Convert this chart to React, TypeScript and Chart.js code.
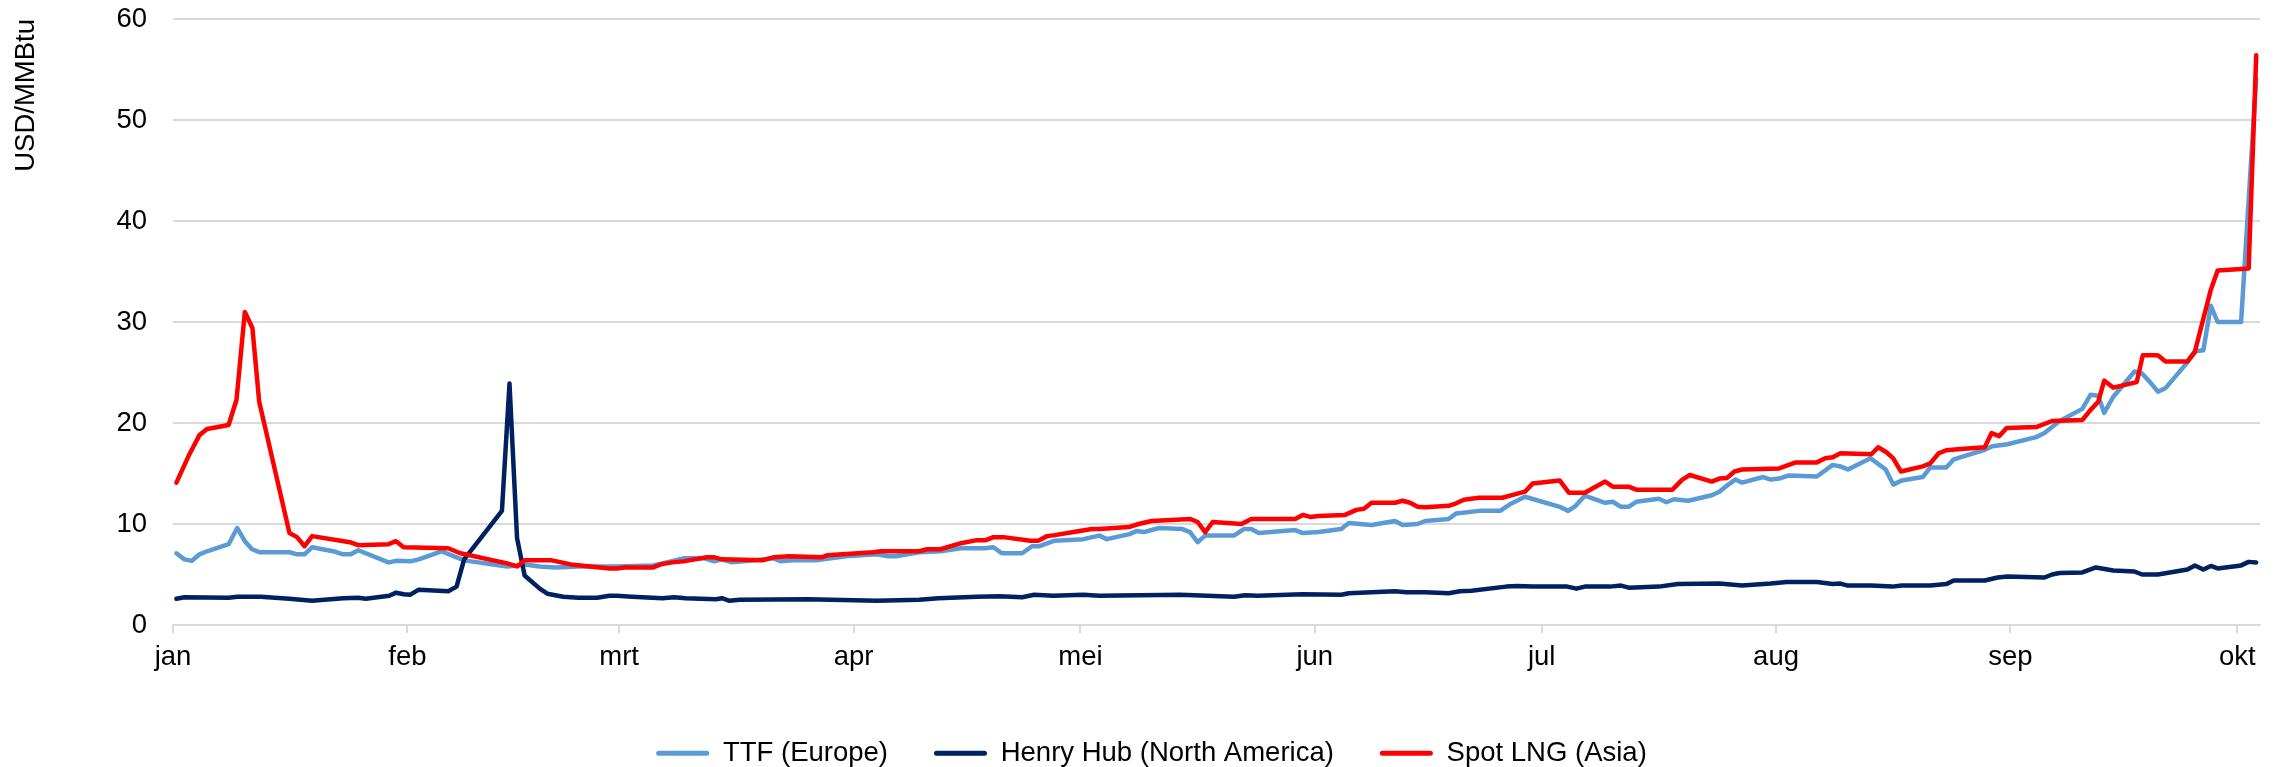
import React, { useEffect, useRef } from "react";
import { Chart, registerables } from "chart.js";

Chart.register(...registerables);

// Month tick positions (day of year, Jan 1 = 0) and labels
const monthStarts = [0, 31, 59, 90, 120, 151, 181, 212, 243, 273];
const monthLabels = ["jan", "feb", "mrt", "apr", "mei", "jun", "jul", "aug", "sep", "okt"];

const seriesLabels = ["TTF (Europe)", "Henry Hub (North America)", "Spot LNG (Asia)"];
const seriesColors = ["#5B9BD5", "#002060", "#FF0000"];

// [day position, USD/MMBtu]
const ttfSeries: [number, number][] = [
  [0.45, 7.1], [1.5, 6.5], [2.5, 6.35], [3.5, 7.0], [4.5, 7.3], [7.35, 8.0], [8.5, 9.6], [9.5, 8.3], [10.45, 7.5], [11.5, 7.2],
  [15.4, 7.2], [16.4, 7.0], [17.4, 7.0], [18.4, 7.7], [21.5, 7.25], [22.5, 7.0], [23.5, 7.0], [24.5, 7.4], [28.5, 6.2], [29.5, 6.35],
  [31.4, 6.3], [32.5, 6.5], [35.5, 7.3], [38.5, 6.4], [44.2, 5.8], [45.5, 5.9], [46.5, 6.0], [48.5, 5.8], [50.6, 5.7], [53.6, 5.8],
  [58.7, 5.8], [63.5, 5.9], [64.7, 6.1], [67.5, 6.6], [70.3, 6.6], [71.6, 6.3], [72.6, 6.5], [73.9, 6.2], [76.9, 6.4], [79.4, 6.6],
  [80.4, 6.3], [81.9, 6.4], [85, 6.4], [89, 6.8], [93.1, 7.0], [94.6, 6.8], [95.6, 6.8], [98.7, 7.2], [101.5, 7.3], [104.2, 7.6],
  [107.3, 7.6], [108.5, 7.7], [109.6, 7.1], [112.3, 7.1], [113.6, 7.8], [114.6, 7.8], [116.6, 8.35], [120.4, 8.5], [122.5, 8.85], [123.5, 8.5],
  [126.5, 9.0], [127.4, 9.3], [128.4, 9.2], [130.4, 9.6], [133.5, 9.5], [134.5, 9.2], [135.5, 8.2], [136.5, 8.85], [140.3, 8.85], [141.6, 9.5],
  [142.6, 9.5], [143.6, 9.1], [148.4, 9.4], [149.4, 9.1], [151.5, 9.2], [154.5, 9.5], [155.5, 10.1], [158.5, 9.9], [161.6, 10.3], [162.6, 9.9],
  [164.6, 10.0], [165.6, 10.3], [168.7, 10.5], [169.7, 11.05], [172.7, 11.3], [175.5, 11.3], [176.8, 11.95], [178.8, 12.7], [183.4, 11.7], [184.5, 11.3],
  [185.5, 11.8], [186.7, 12.8], [189.4, 12.1], [190.4, 12.2], [191.5, 11.7], [192.5, 11.7], [193.5, 12.2], [196.5, 12.5], [197.5, 12.15], [198.5, 12.45],
  [200.4, 12.3], [203.5, 12.85], [204.5, 13.2], [205.5, 13.8], [206.6, 14.4], [207.5, 14.1], [210.3, 14.65], [211.3, 14.4], [212.4, 14.5], [213.6, 14.8],
  [217.4, 14.7], [219.5, 15.85], [220.5, 15.7], [221.5, 15.4], [224.5, 16.5], [226.5, 15.4], [227.5, 13.9], [228.6, 14.3], [231.4, 14.65], [232.4, 15.6],
  [234.5, 15.6], [235.5, 16.4], [239.6, 17.35], [240.6, 17.7], [242.6, 17.9], [246.4, 18.6], [247.5, 19.0], [249.5, 20.2], [252.5, 21.4], [253.6, 22.8],
  [254.6, 22.7], [255.4, 21.0], [256.6, 22.6], [259.4, 25.1], [260.4, 24.9], [261.4, 24.1], [262.5, 23.1], [263.5, 23.45], [266.4, 26.0], [267.5, 27.1],
  [268.5, 27.2], [269.5, 31.6], [270.4, 30.0], [273.5, 30.0], [275.5, 54.1],
];

const henryHubSeries: [number, number][] = [
  [0.45, 2.6], [1.5, 2.75], [7.35, 2.7], [8.5, 2.8], [11.6, 2.8], [15.4, 2.6], [18.4, 2.4], [22.5, 2.65], [24.5, 2.7], [25.5, 2.6],
  [28.6, 2.9], [29.5, 3.2], [30.5, 3.05], [31.4, 3.0], [32.5, 3.5], [36.4, 3.35], [37.5, 3.8], [38.5, 6.5], [43.5, 11.3], [44.5, 23.9],
  [45.5, 8.6], [46.5, 4.9], [48.5, 3.6], [49.5, 3.1], [51.6, 2.8], [53.6, 2.7], [56.1, 2.7], [57.7, 2.9], [58.7, 2.9], [60.7, 2.8],
  [64.7, 2.65], [66.3, 2.75], [67.8, 2.65], [71.8, 2.55], [72.6, 2.65], [73.6, 2.4], [74.9, 2.5], [84, 2.55], [93.1, 2.4], [98.7, 2.5],
  [101.2, 2.65], [106.3, 2.8], [109.3, 2.85], [112.3, 2.75], [113.9, 3.0], [116.4, 2.9], [120.4, 3.0], [122.5, 2.9], [133.2, 3.0], [136.8, 2.9],
  [140.3, 2.8], [141.8, 2.95], [143.4, 2.9], [149.4, 3.05], [154.5, 3.0], [155.5, 3.15], [158.5, 3.25], [161.6, 3.35], [163.1, 3.25], [165.6, 3.25],
  [168.7, 3.15], [170.2, 3.35], [171.7, 3.4], [176.3, 3.8], [177.8, 3.85], [179.8, 3.8], [184.4, 3.8], [185.6, 3.6], [186.7, 3.8], [190, 3.8],
  [191.5, 3.9], [192.5, 3.7], [196.5, 3.8], [199, 4.05], [204.5, 4.1], [207.5, 3.9], [211.3, 4.1], [213.4, 4.25], [217.4, 4.25], [219.5, 4.05],
  [220.5, 4.1], [221.5, 3.9], [224.6, 3.9], [227.4, 3.8], [228.6, 3.9], [232.4, 3.9], [234.5, 4.05], [235.5, 4.4], [239.6, 4.4], [241.3, 4.7],
  [242.6, 4.8], [247.5, 4.7], [248.5, 5.0], [249.5, 5.15], [252.5, 5.2], [254.3, 5.7], [256.6, 5.4], [259.4, 5.3], [260.4, 5.0], [262.5, 5.0],
  [266.4, 5.5], [267.4, 5.9], [268.5, 5.5], [269.5, 5.85], [270.4, 5.6], [273.5, 5.9], [274.5, 6.25], [275.5, 6.2],
];

const spotLngSeries: [number, number][] = [
  [0.45, 14.1], [2.1, 16.8], [3.5, 18.8], [4.5, 19.4], [7.35, 19.8], [8.4, 22.3], [9.5, 31.0], [10.5, 29.4], [11.4, 22.1], [15.4, 9.1],
  [16.4, 8.7], [17.4, 7.8], [18.4, 8.8], [23.4, 8.2], [24.5, 7.9], [28.5, 8.0], [29.5, 8.3], [30.5, 7.7], [36.4, 7.6], [38.0, 7.1],
  [44.2, 6.1], [45.5, 5.8], [46.5, 6.4], [50.1, 6.4], [52.6, 6.0], [53.9, 5.9], [57.7, 5.6], [58.7, 5.6], [59.7, 5.7], [63.5, 5.7],
  [64.5, 6.0], [66, 6.2], [67.5, 6.3], [70.6, 6.7], [71.6, 6.7], [72.6, 6.5], [77.9, 6.4], [79.4, 6.7], [81.5, 6.8], [85.8, 6.7],
  [86.5, 6.9], [92.6, 7.2], [93.6, 7.3], [98.7, 7.3], [99.7, 7.5], [101.5, 7.5], [104.2, 8.1], [106.3, 8.4], [107.5, 8.4], [108.5, 8.7],
  [109.8, 8.7], [113.4, 8.35], [114.4, 8.35], [115.6, 8.8], [116.6, 8.9], [119.9, 9.3], [121.5, 9.5], [122.5, 9.5], [126.4, 9.7], [127.7, 10.0],
  [129.4, 10.3], [134.5, 10.5], [135.5, 10.2], [136.5, 9.2], [137.5, 10.2], [141.3, 10.0], [142.6, 10.5], [148.4, 10.5], [149.4, 10.9], [150.4, 10.7],
  [151.5, 10.8], [155, 10.9], [156.5, 11.4], [157.5, 11.5], [158.5, 12.1], [161.6, 12.1], [162.6, 12.3], [163.6, 12.1], [164.6, 11.7], [165.6, 11.65],
  [168.7, 11.8], [169.7, 12.05], [170.7, 12.4], [172.7, 12.6], [175.8, 12.6], [177.8, 13.0], [178.8, 13.2], [179.8, 14.0], [183.4, 14.3], [184.6, 13.1],
  [186.7, 13.1], [189.4, 14.2], [190.4, 13.7], [192.5, 13.7], [193.5, 13.4], [198.3, 13.4], [199.6, 14.4], [200.6, 14.85], [203.5, 14.2], [204.5, 14.5],
  [205.5, 14.55], [206.5, 15.2], [207.5, 15.4], [212.4, 15.5], [214.6, 16.1], [217.4, 16.1], [218.5, 16.5], [219.5, 16.6], [220.5, 17.0], [224.6, 16.9],
  [225.5, 17.6], [226.6, 17.1], [227.5, 16.5], [228.5, 15.2], [231.4, 15.7], [232.4, 16.0], [233.5, 17.0], [234.5, 17.3], [236, 17.4], [239.6, 17.6],
  [240.5, 19.0], [241.5, 18.7], [242.5, 19.5], [246.4, 19.6], [248.5, 20.2], [252.5, 20.3], [253.6, 21.3], [254.6, 22.1], [255.4, 24.2], [256.6, 23.5],
  [259.7, 24.05], [260.5, 26.7], [262.5, 26.7], [263.5, 26.1], [266.4, 26.1], [267.4, 27.1], [269.5, 33.2], [270.4, 35.1], [274.5, 35.3], [275.5, 56.4],
];

const yTicks = [0, 10, 20, 30, 40, 50, 60];

const FONT = "'Liberation Sans', Arial, sans-serif";
const FS = 27.5;

const legendShift = {
  id: "legendShift",
  afterLayout(chart: any) {
    if (chart.legend) {
      chart.legend.left += 43;
    }
  },
};

export default function App() {
  const ref = useRef<HTMLCanvasElement | null>(null);

  useEffect(() => {
    document.body.style.margin = "0";
    const canvas = ref.current;
    if (!canvas) return;
    const toPts = (s: [number, number][]) => s.map(([x, y]) => ({ x, y }));
    const allSeries = [ttfSeries, henryHubSeries, spotLngSeries];
    const orders = [3, 2, 1];
    const chart = new Chart(canvas, {
      type: "line",
      data: {
        datasets: allSeries.map((s, i) => ({
          label: seriesLabels[i],
          data: toPts(s),
          borderColor: seriesColors[i],
          backgroundColor: seriesColors[i],
          borderWidth: 4.5,
          pointRadius: 0,
          pointHoverRadius: 0,
          tension: 0,
          fill: false,
          borderJoinStyle: "round",
          borderCapStyle: "round",
          order: orders[i],
        })) as any,
      },
      options: {
        animation: false,
        responsive: false,
        devicePixelRatio: 1,
        parsing: false as any,
        layout: { padding: { top: 19, right: 24, left: 0, bottom: -10 } },
        plugins: {
          tooltip: { enabled: false },
          legend: {
            position: "bottom",
            labels: {
              font: { family: FONT, size: FS },
              color: "#000",
              boxWidth: 53,
              boxHeight: 5,
              padding: 46,
              generateLabels: (c: any) =>
                c.data.datasets.map((ds: any, i: number) => ({
                  text: ds.label,
                  fillStyle: ds.borderColor,
                  strokeStyle: ds.borderColor,
                  lineWidth: 0,
                  hidden: false,
                  datasetIndex: i,
                  fontColor: "#000",
                  borderRadius: 2.5,
                })),
            },
          },
        },
        scales: {
          x: {
            type: "linear",
            min: 0,
            max: 276,
            afterBuildTicks: (scale: any) => {
              scale.ticks = monthStarts.map((v) => ({ value: v }));
            },
            afterFit: (scale: any) => {
              scale.height = 68.5;
            },
            ticks: {
              autoSkip: false,
              maxRotation: 0,
              padding: 8,
              color: "#000",
              font: { family: FONT, size: FS },
              callback: (v: any) => {
                const i = monthStarts.indexOf(Number(v));
                return i >= 0 ? monthLabels[i] : "";
              },
            },
            grid: {
              display: true,
              drawOnChartArea: false,
              drawTicks: true,
              tickLength: 8,
              color: "#d9d9d9",
              lineWidth: 2,
            },
            border: { display: true, color: "#d9d9d9", width: 2 },
          },
          y: {
            type: "linear",
            min: 0,
            max: 60,
            afterBuildTicks: (scale: any) => {
              scale.ticks = yTicks.map((v) => ({ value: v }));
            },
            afterFit: (scale: any) => {
              scale.width = 173;
            },
            ticks: {
              padding: 0,
              color: "#000",
              font: { family: FONT, size: FS },
            },
            grid: {
              color: "#d9d9d9",
              lineWidth: 2,
              drawTicks: true,
              tickLength: 26,
              tickColor: "rgba(0,0,0,0)",
            },
            border: { display: false },
            title: {
              display: true,
              text: "USD/MMBtu",
              align: "end",
              color: "#000",
              font: { family: FONT, size: FS },
              padding: { top: 9.5, bottom: 4 },
            },
          },
        },
      },
      plugins: [legendShift],
    });
    return () => chart.destroy();
  }, []);

  return (
    <div style={{ width: 2284, height: 767 }}>
      <canvas ref={ref} width={2284} height={767} style={{ display: "block" }} />
    </div>
  );
}
